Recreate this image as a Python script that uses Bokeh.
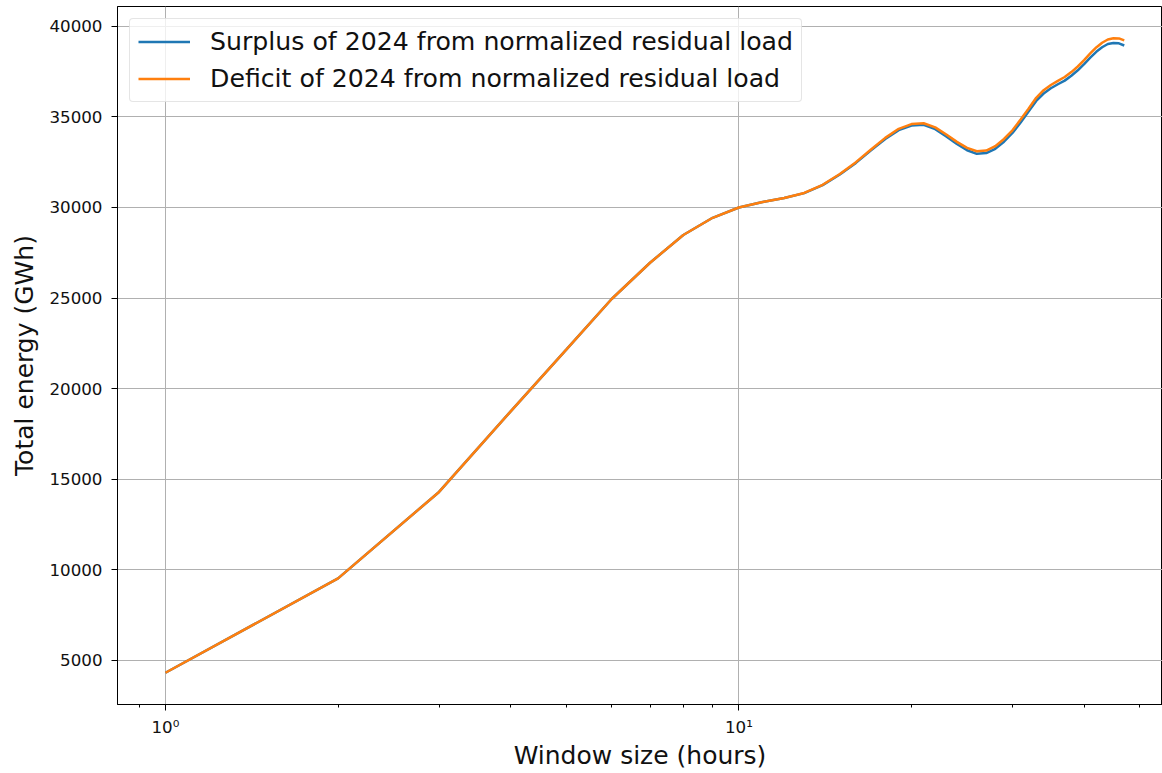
from bokeh.plotting import figure
from bokeh.models import Range1d, FixedTicker, Legend, LegendItem
from bokeh.embed import file_html
from bokeh.resources import INLINE

# Window size in hours (log axis)
window_hours = list(range(1, 48))

# Total energy (GWh) per window size
surplus = [4320, 9530, 14300, 18750, 22150, 24950, 26950, 28480, 29430, 30000,
           30300, 30520, 30790, 31230, 31820, 32460, 33150, 33780, 34270, 34520,
           34560, 34320, 33920, 33500, 33160, 32960, 33000, 33240, 33630, 34110,
           34690, 35290, 35880, 36290, 36580, 36800, 37000, 37270, 37570, 37910,
           38270, 38590, 38840, 39020, 39080, 39060, 38940]
deficit = [4320, 9530, 14300, 18750, 22150, 24950, 26950, 28480, 29430, 30000,
           30300, 30520, 30800, 31250, 31850, 32500, 33200, 33840, 34340, 34600,
           34650, 34420, 34030, 33620, 33290, 33100, 33140, 33380, 33780, 34260,
           34850, 35450, 36050, 36470, 36760, 36990, 37200, 37470, 37780, 38130,
           38500, 38830, 39090, 39270, 39340, 39330, 39220]

series_labels = ["Surplus of 2024 from normalized residual load",
                 "Deficit of 2024 from normalized residual load"]
series_colors = ["#1f77b4", "#ff7f0e"]

x_major = [1, 10]
x_minor = [0.9, 2, 3, 4, 5, 6, 7, 8, 9, 20, 30, 40, 50]
x_tick_labels = {1: "10⁰", 10: "10¹"}
y_major = [5000, 10000, 15000, 20000, 25000, 30000, 35000, 40000]

FONT = "DejaVu Sans"

all_vals = surplus + deficit
lo, hi = min(all_vals), max(all_vals)
pad = 0.05 * (hi - lo)

p = figure(width=1162, height=773, x_axis_type="log",
           x_range=Range1d(0.8248, 54.8), y_range=Range1d(lo - pad, hi + pad),
           output_backend="svg", toolbar_location=None,
           min_border_left=117, min_border_right=0,
           min_border_top=6, min_border_bottom=69)

p.background_fill_color = "white"
p.border_fill_color = "white"
p.outline_line_color = "black"
p.outline_line_width = 1
p.outline_line_alpha = 1

r_surplus = p.line(window_hours, surplus, line_color=series_colors[0], line_width=2.5)
r_deficit = p.line(window_hours, deficit, line_color=series_colors[1], line_width=2.5)

# Axes
p.xaxis.ticker = FixedTicker(ticks=x_major, minor_ticks=x_minor)
p.xaxis.major_label_overrides = x_tick_labels
p.yaxis.ticker = FixedTicker(ticks=y_major)
p.yaxis.formatter.use_scientific = False

for ax in (p.xaxis[0], p.yaxis[0]):
    ax.axis_line_color = "black"
    ax.axis_line_width = 1
    ax.major_tick_line_color = "black"
    ax.major_tick_out = 6
    ax.major_tick_in = 0
    ax.major_label_text_font = FONT
    ax.major_label_text_font_size = "16.7px"
    ax.major_label_text_color = "#111111"
    ax.axis_label_text_font = FONT
    ax.axis_label_text_font_size = "25px"
    ax.axis_label_text_font_style = "normal"
    ax.axis_label_text_color = "#111111"

p.xaxis.minor_tick_line_color = "black"
p.xaxis.minor_tick_out = 3
p.xaxis.minor_tick_in = 0
p.yaxis.minor_tick_line_color = None

p.xaxis.axis_label = "Window size (hours)"
p.yaxis.axis_label = "Total energy (GWh)"
p.xaxis.major_label_standoff = 6
p.yaxis.major_label_standoff = 9
p.xaxis.axis_label_standoff = 1
p.yaxis.axis_label_standoff = 7

# Grid
p.xgrid.grid_line_color = "#b0b0b0"
p.ygrid.grid_line_color = "#b0b0b0"
p.xgrid.grid_line_width = 1
p.ygrid.grid_line_width = 1

# Legend
legend = Legend(items=[LegendItem(label=series_labels[0], renderers=[r_surplus]),
                       LegendItem(label=series_labels[1], renderers=[r_deficit])],
                location="top_left", margin=12, padding=8, spacing=8,
                glyph_width=52, glyph_height=29, label_height=29, label_standoff=20,
                label_text_font=FONT, label_text_font_size="25.2px",
                label_text_color="#111111",
                border_line_color="#cccccc", border_line_width=1,
                border_radius=4, background_fill_color="white",
                background_fill_alpha=0.8)
p.add_layout(legend)

open("out.html", "w").write(file_html(p, INLINE))
